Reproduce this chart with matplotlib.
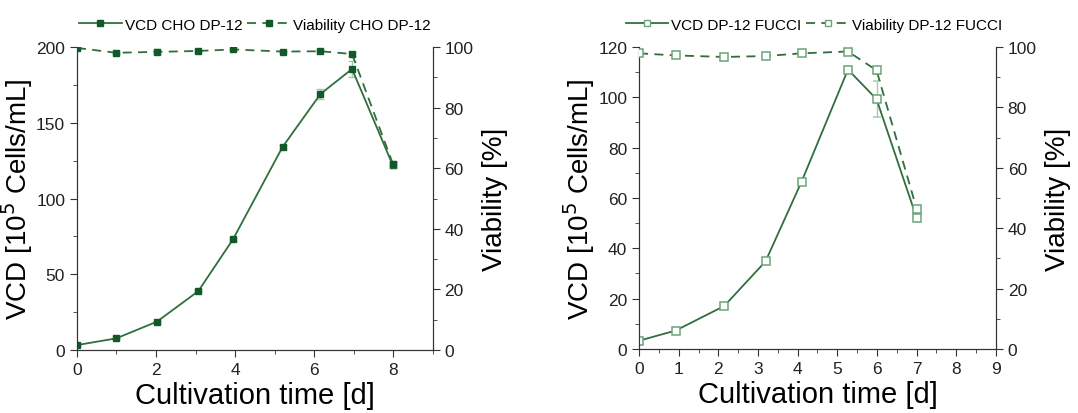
import numpy as np
import matplotlib
matplotlib.use("Agg")
from matplotlib import pyplot as plt
from matplotlib.ticker import MultipleLocator
from matplotlib.lines import Line2D

plt.rcParams['font.family'] = ['Liberation Sans', 'DejaVu Sans']

# CHO DP-12
t_cho = [0, 0.99, 2.02, 3.07, 3.95, 5.2, 6.16, 6.96, 7.99]
vcd_cho = [3.3, 7.7, 18.7, 38.9, 73.2, 134, 169, 185.5, 122]
vcd_cho_err = [0.5, 0.5, 0.8, 0.8, 1, 1.5, 3, 5, 2]
via_cho = [99.7, 98.1, 98.4, 98.7, 99.2, 98.5, 98.6, 97.7, 61.5]
via_cho_err = [0.3, 0.3, 0.8, 0.3, 0.3, 0.3, 0.3, 0.6, 1]

# DP-12 FUCCI
t_fuc = [0, 0.92, 2.15, 3.19, 4.1, 5.27, 5.99, 7.0]
vcd_fuc = [3.3, 7.3, 17.1, 34.8, 66.5, 111, 99.3, 52.2]
vcd_fuc_err = [0.3, 0.5, 0.6, 1, 0.8, 1, 7.3, 1]
via_fuc = [97.9, 97.2, 96.7, 97.0, 97.9, 98.5, 92.3, 46.5]
via_fuc_err = [0.3, 0.3, 0.5, 0.5, 0.5, 0.3, 1.2, 0.5]

line_c = '#2f6f3e'
mark_c = '#12592a'
light_c = '#6aa57a'
err_c = '#a5c9ad'
dash = (0, (5, 3.5))

fig = plt.figure(figsize=(10.78, 4.14), dpi=100)


def setup(ax, ax2, ymax, ymajor, yminor):
    ax.set_xlim(0, 9)
    ax.set_ylim(0, ymax)
    ax2.set_ylim(0, 100)
    ax.yaxis.set_major_locator(MultipleLocator(ymajor))
    ax.yaxis.set_minor_locator(MultipleLocator(yminor))
    ax2.yaxis.set_major_locator(MultipleLocator(20))
    ax2.yaxis.set_minor_locator(MultipleLocator(10))
    for a in (ax, ax2):
        a.spines['top'].set_visible(False)
        for s in a.spines.values():
            s.set_color('#333333')
        a.tick_params(which='both', direction='out', colors='#333333', labelsize=12.5,
                      labelcolor='#222222')
        a.tick_params(which='major', length=5)
        a.tick_params(which='minor', length=3)
    ax.set_xlabel('Cultivation time [d]', fontsize=21, labelpad=3)
    ax.set_ylabel('VCD [10$^5$ Cells/mL]', fontsize=20, labelpad=1)
    ax2.set_ylabel('Viability [%]', fontsize=20, labelpad=6)


def legend(ax, labels, filled, cx):
    mfc = mark_c if filled else 'white'
    mec = mark_c if filled else light_c
    hs = [Line2D([], [], color=line_c, lw=1.3, marker='s', ms=4.5, mfc=mfc, mec=mec),
          Line2D([], [], color=line_c, lw=1.3, ls=dash, marker='s', ms=4.5, mfc=mfc, mec=mec)]
    ax.legend(hs, labels, loc='lower center', bbox_to_anchor=(cx, 1.03), ncol=2,
              frameon=False, fontsize=11, handlelength=2.8, columnspacing=0.3,
              handletextpad=0.2, borderaxespad=0)


# left panel
ax = fig.add_axes([0.0714, 0.152, 0.330, 0.732])
ax2 = ax.twinx()
setup(ax, ax2, 200, 50, 25)
ax.xaxis.set_major_locator(MultipleLocator(2))
ax.xaxis.set_minor_locator(MultipleLocator(1))
ax.errorbar(t_cho, vcd_cho, yerr=vcd_cho_err, color=line_c, ecolor=err_c, elinewidth=1,
            capsize=3, lw=1.3, marker='s', ms=5, mfc=mark_c, mec=mark_c, zorder=3)
ax2.errorbar(t_cho, via_cho, yerr=via_cho_err, color=line_c, ecolor=err_c, elinewidth=1,
             capsize=3, lw=1.3, ls=dash, marker='s', ms=5, mfc=mark_c, mec=mark_c, zorder=3)
legend(ax, ['VCD CHO DP-12', 'Viability CHO DP-12'], True, 0.5)

# right panel
bx = fig.add_axes([0.5928, 0.1546, 0.331, 0.7295])
bx2 = bx.twinx()
setup(bx, bx2, 120, 20, 10)
bx.xaxis.set_major_locator(MultipleLocator(1))
bx.xaxis.set_minor_locator(MultipleLocator(0.5))
bx.errorbar(t_fuc, vcd_fuc, yerr=vcd_fuc_err, color=line_c, ecolor=err_c, elinewidth=1,
            capsize=3, lw=1.3, marker='s', ms=5.5, mfc='white', mec=light_c, mew=1.1, zorder=3)
bx2.errorbar(t_fuc, via_fuc, yerr=via_fuc_err, color=line_c, ecolor=err_c, elinewidth=1,
             capsize=3, lw=1.3, ls=dash, marker='s', ms=5.5, mfc='white', mec=light_c,
             mew=1.1, zorder=3)
legend(bx, ['VCD DP-12 FUCCI', 'Viability DP-12 FUCCI'], False, 0.49)

fig.savefig('out.png', dpi=100)
